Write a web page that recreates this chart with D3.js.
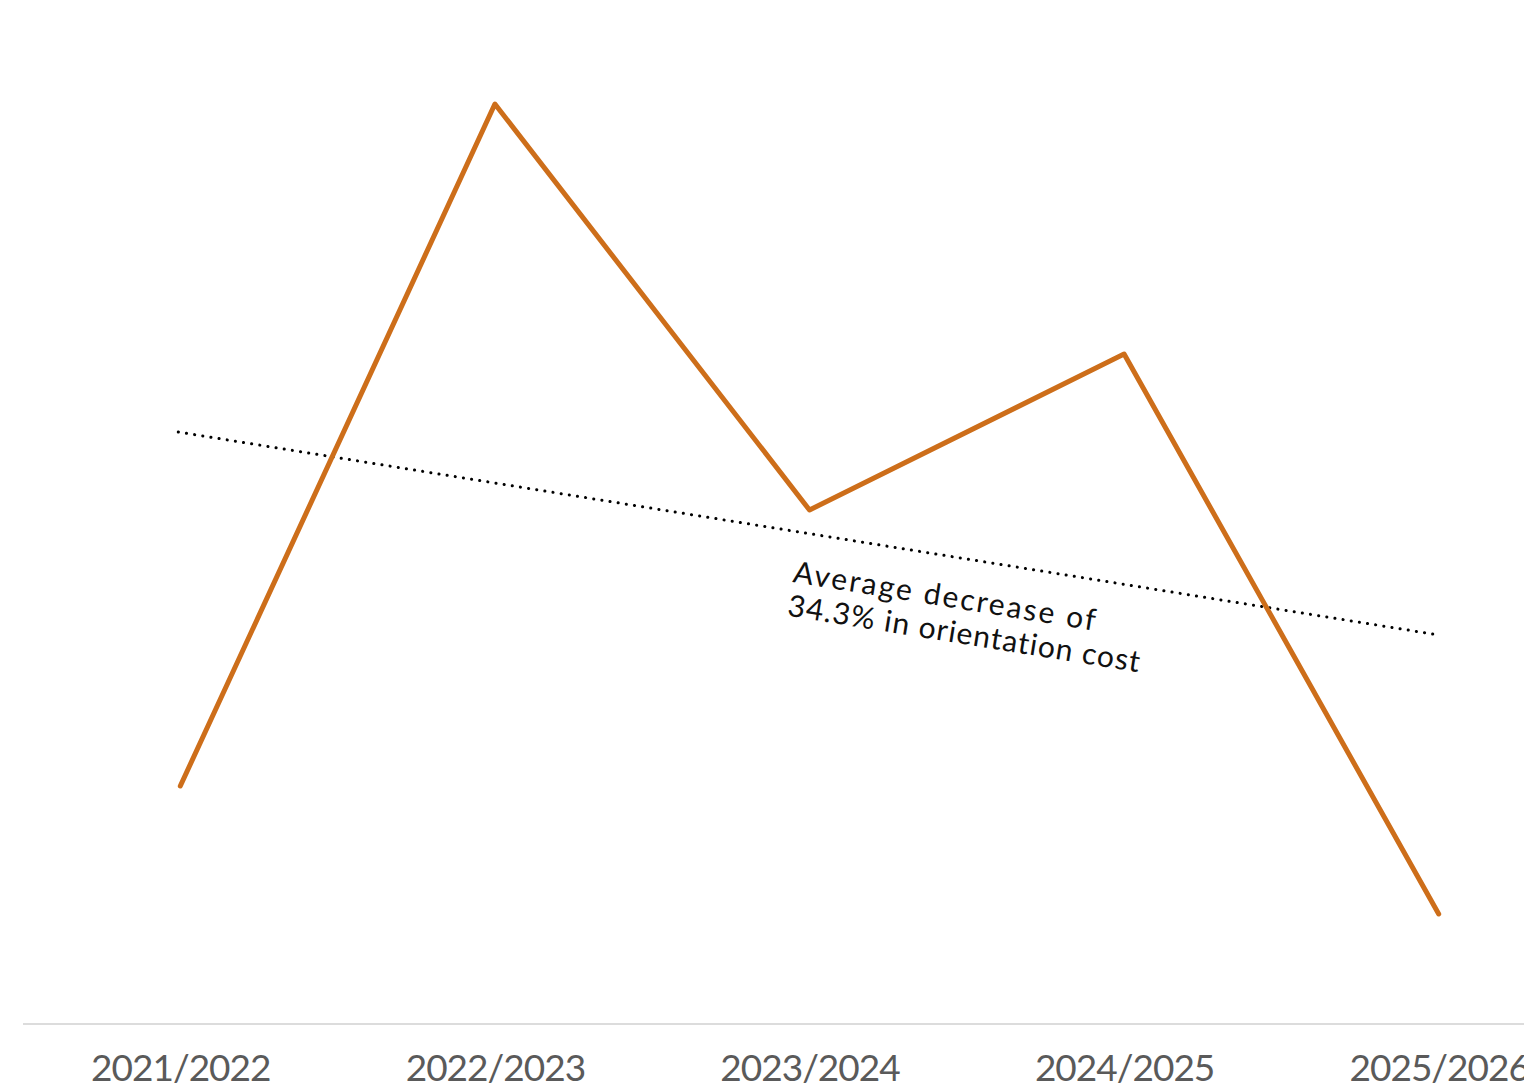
<!DOCTYPE html>
<html><head><meta charset="utf-8">
<script src="https://cdn.jsdelivr.net/npm/d3@7"></script>
<style>html,body{margin:0;padding:0;background:#fff;overflow:hidden}</style>
</head><body>
<svg id="c" width="1524" height="1087"></svg>
<script>
const categories = ["2021/2022","2022/2023","2023/2024","2024/2025","2025/2026"];
const values = [238, 920, 514, 670, 110];
const trendValues = [592, 389];
const annotationLines = ["Average decrease of","34.3% in orientation cost"];

const svg = d3.select("#c");
const x = d3.scalePoint().domain(categories).range([23, 1596]).padding(0.5);
const y = d3.scaleLinear().domain([0, 1000]).range([1024, 24]);

// axis
const ax = svg.append("g").attr("transform","translate(0,1024)")
  .call(d3.axisBottom(x).tickSize(0).tickPadding(0));
ax.select(".domain").attr("d","M23,0H1524").attr("stroke","#dcdcdc").attr("stroke-width",2);
ax.selectAll("text").attr("y",57).attr("dy",0)
  .attr("font-family","Lato, sans-serif").attr("font-weight",400).attr("font-size",37)
  .attr("letter-spacing",-1.0)
  .attr("fill","#5a5a5a");

// trend
const first = categories[0], last = categories[categories.length-1];
svg.append("line")
  .attr("x1", x(first)-2).attr("y1", y(trendValues[0]))
  .attr("x2", x(last)).attr("y2", y(trendValues[1]))
  .attr("stroke","#000").attr("stroke-width",3)
  .attr("stroke-linecap","round").attr("stroke-dasharray","0.1 8.15");

// line
svg.append("path").datum(values)
  .attr("d", d3.line().x((d,i)=>x(categories[i])).y(d=>y(d)))
  .attr("fill","none").attr("stroke","#CD6E1A").attr("stroke-width",5)
  .attr("stroke-linecap","round").attr("stroke-linejoin","round");

// annotation
const ang = Math.atan2(y(trendValues[1])-y(trendValues[0]), x(last)-x(first))*180/Math.PI;
const t = svg.append("text")
  .attr("transform",`translate(792,582) rotate(${ang})`)
  .attr("font-family","Lato, sans-serif").attr("font-size",30)
  .attr("fill","#111");
t.append("tspan").attr("x",0).attr("dy",0).attr("letter-spacing",2.2).text(annotationLines[0]);
t.append("tspan").attr("x",0).attr("dy",34).attr("letter-spacing",1.1).text(annotationLines[1]);
</script>
</body></html>
